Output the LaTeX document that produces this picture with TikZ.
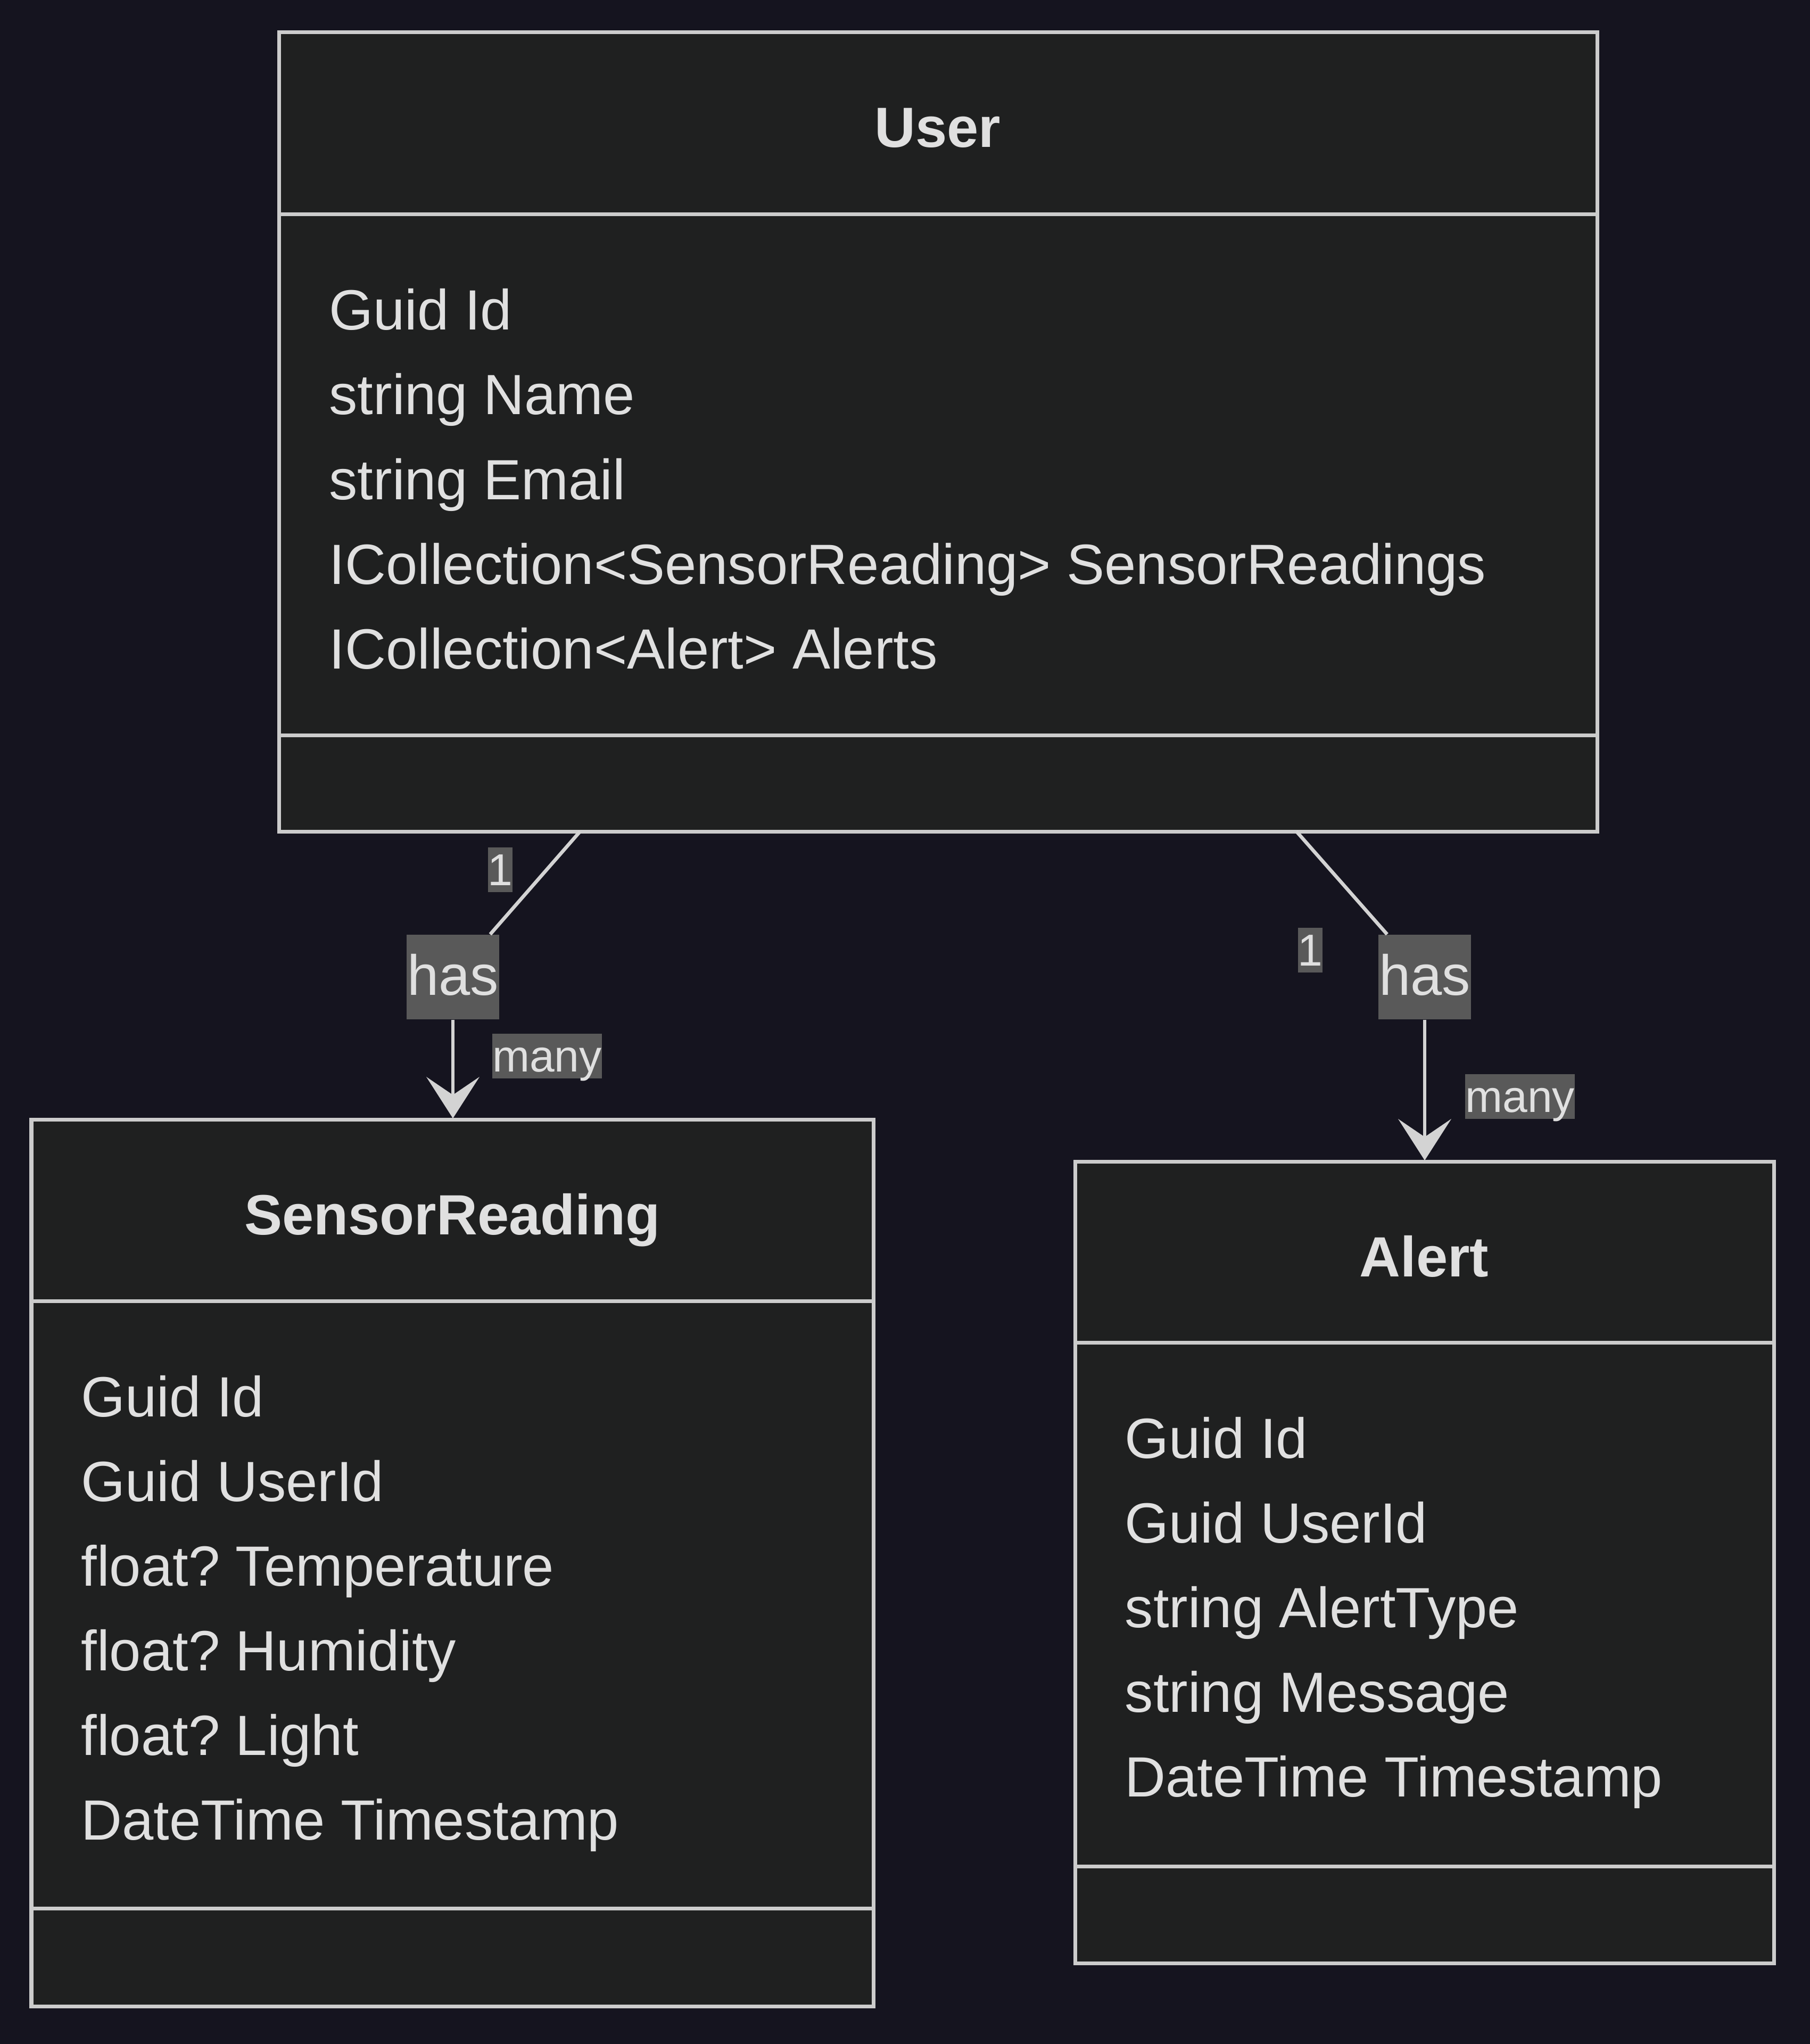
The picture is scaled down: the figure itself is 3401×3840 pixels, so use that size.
\documentclass[tikz,border=0pt]{standalone}
\usepackage{fontspec}
\setmainfont{Liberation Sans}
\usetikzlibrary{arrows.meta}
\definecolor{bgc}{RGB}{21,20,31}
\definecolor{boxfill}{RGB}{31,32,32}
\definecolor{boxstroke}{RGB}{204,204,204}
\definecolor{txtc}{RGB}{224,224,224}
\definecolor{lblfill}{RGB}{89,89,89}
\definecolor{connc}{RGB}{211,211,211}
\frenchspacing
\begin{document}
\begin{tikzpicture}[x=0.01cm,y=-0.01cm,
  classbox/.style={draw=boxstroke,fill=boxfill,line width=0.07cm,anchor=north west,inner sep=0pt,outer sep=0pt},
  boxline/.style={draw=boxstroke,line width=0.07cm},
  attr/.style={anchor=base west,inner sep=0pt,text=txtc,font=\fontsize{30.3}{36}\selectfont},
  ctitle/.style={anchor=base,inner sep=0pt,text=txtc,font=\fontsize{30.3}{36}\selectfont\bfseries},
  haslbl/.style={anchor=base,fill=lblfill,text=txtc,inner xsep=0.01cm,inner ysep=0pt,text height=1.13cm,text depth=0.46cm,font=\fontsize{30.3}{36}\selectfont},
  smalllbl/.style={anchor=base,fill=lblfill,text=txtc,inner xsep=0pt,inner ysep=0pt,text height=0.71cm,text depth=0.13cm,font=\fontsize{23.9}{29}\selectfont},
  conn/.style={draw=connc,line width=0.066cm},
  connarrow/.style={conn,-{Stealth[length=0.78cm,width=1.0cm,inset=0.34cm,line width=0pt]}}
]
\fill[bgc] (0,0) rectangle (3401,3840);
\useasboundingbox (0,0) rectangle (3401,3840);

% User
\node[classbox,minimum width=24.76cm,minimum height=15.01cm] (user) at (524,61) {};
\draw[boxline] (524,403) -- (3000,403);
\draw[boxline] (524,1381) -- (3000,1381);
\node[ctitle] (usertitle) at (1762,277) {User};
\node[attr] (ua1) at (618,620) {Guid Id};
\node[attr] (ua2) at (618,779) {string Name};
\node[attr] (ua3) at (618,938) {string Email};
\node[attr] (ua4) at (618,1097) {ICollection<SensorReading> SensorReadings};
\node[attr] (ua5) at (618,1256) {ICollection<Alert> Alerts};

% SensorReading
\node[classbox,minimum width=15.82cm,minimum height=16.65cm] (sr) at (59,2103) {};
\draw[boxline] (59,2444) -- (1641,2444);
\draw[boxline] (59,3585) -- (1641,3585);
\node[ctitle] (srtitle) at (850,2319) {SensorReading};
\node[attr] (sa1) at (152,2661) {Guid Id};
\node[attr] (sa2) at (152,2820) {Guid UserId};
\node[attr] (sa3) at (152,2979) {float? Temperature};
\node[attr] (sa4) at (152,3138) {float? Humidity};
\node[attr] (sa5) at (152,3297) {float? Light};
\node[attr] (sa6) at (152,3456) {DateTime Timestamp};

% Alert
\node[classbox,minimum width=13.13cm,minimum height=15.06cm] (alert) at (2020,2182) {};
\draw[boxline] (2020,2522) -- (3333,2522);
\draw[boxline] (2020,3506) -- (3333,3506);
\node[ctitle] (alerttitle) at (2676,2398) {Alert};
\node[attr] (aa1) at (2113,2739) {Guid Id};
\node[attr] (aa2) at (2113,2898) {Guid UserId};
\node[attr] (aa3) at (2113,3057) {string AlertType};
\node[attr] (aa4) at (2113,3216) {string Message};
\node[attr] (aa5) at (2113,3375) {DateTime Timestamp};

% connector User -> SensorReading
\coordinate (us1) at (1090,1562);
\coordinate (srtop) at (851,2101);
\node[haslbl] (has1) at (851,1869) {has};
\draw[conn] (us1) -- (has1);
\draw[connarrow] (has1) -- (srtop);
\node[smalllbl] (one1) at (940,1663) {1};
\node[smalllbl] (many1) at (1028,2013) {many};

% connector User -> Alert
\coordinate (us2) at (2436,1562);
\coordinate (altop) at (2677,2180);
\node[haslbl] (has2) at (2677,1869) {has};
\draw[conn] (us2) -- (has2);
\draw[connarrow] (has2) -- (altop);
\node[smalllbl] (one2) at (2462,1814) {1};
\node[smalllbl] (many2) at (2856,2089) {many};
\end{tikzpicture}
\end{document}
